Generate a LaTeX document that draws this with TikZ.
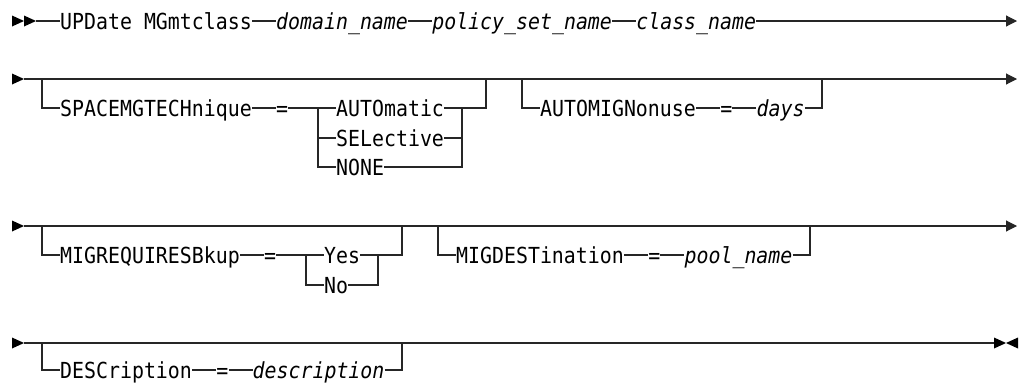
\documentclass[tikz,border=0pt]{standalone}
\usepackage{fontspec}
\setmonofont[FakeStretch=0.9]{DejaVu Sans Mono}
\usetikzlibrary{arrows.meta, positioning}
\newcommand{\synfont}{\ttfamily\fontsize{22.1}{26}\selectfont}
\tikzset{
  kw/.style={inner sep=0pt, anchor=west, font=\synfont, text height=16pt, text depth=0pt},
  var/.style={kw, font=\synfont\itshape},
  rail/.style={line width=1.1pt, draw=black!85},
  endarrow/.style={rail, -{Triangle[length=11pt, width=11pt]}},
  rtri/.pic={\fill[black] (-12,-5.5) -- (0,0) -- (-12,5.5) -- cycle;},
  ltri/.pic={\fill[black] (12,-5.5) -- (0,0) -- (12,5.5) -- cycle;},
}

\begin{document}
\begin{tikzpicture}[x=1pt, y=-1pt]
  \useasboundingbox (0,0) rectangle (1022,383);

  % Row 1: command
  \pic at (24,21) {rtri};
  \pic at (36,21) {rtri};
  \coordinate (s1) at (36,21);
  \coordinate (e1) at (1017,21);
  \node[kw] (upd) at (60,21) {UPDate MGmtclass};
  \node[var, right=24pt of upd] (dom) {domain\_name};
  \node[var, right=24pt of dom] (pol) {policy\_set\_name};
  \node[var, right=24pt of pol] (cls) {class\_name};
  \draw[rail] (s1) -- (upd);
  \draw[rail] (upd) -- (dom);
  \draw[rail] (dom) -- (pol);
  \draw[rail] (pol) -- (cls);
  \draw[endarrow] (cls) -- (e1);

  % Row 2: SPACEMGTECHnique, AUTOMIGNonuse
  \pic at (24,79) {rtri};
  \coordinate (s2) at (24,79);
  \coordinate (e2) at (1017,79);
  \draw[endarrow] (s2) -- (e2);
  \coordinate (o1a) at (42,79);
  \coordinate (o1b) at (486,79);
  \node[kw] (spc) at (60,108) {SPACEMGTECHnique};
  \node[kw, right=24pt of spc] (eq1) {=};
  \node[kw] (auto) at (336,108) {AUTOmatic};
  \node[kw] (sel)  at (336,138) {SELective};
  \node[kw] (none) at (336,167) {NONE};
  \coordinate (st1l) at (318,108);
  \coordinate (st1r) at (462,108);
  \draw[rail] (o1a) |- (spc);
  \draw[rail] (spc) -- (eq1);
  \draw[rail] (eq1) -- (auto);
  \draw[rail] (st1l) |- (none);
  \draw[rail] (st1l |- sel) -- (sel);
  \draw[rail] (sel) -- (st1r |- sel);
  \draw[rail] (none) -| (st1r);
  \draw[rail] (auto) -| (o1b);

  \coordinate (o2a) at (522,79);
  \coordinate (o2b) at (822,79);
  \node[kw] (amn) at (540,108) {AUTOMIGNonuse};
  \node[kw, right=24pt of amn] (eq2) {=};
  \node[var, right=24pt of eq2] (days) {days};
  \draw[rail] (o2a) |- (amn);
  \draw[rail] (amn) -- (eq2);
  \draw[rail] (eq2) -- (days);
  \draw[rail] (days) -| (o2b);

  % Row 3: MIGREQUIRESBkup, MIGDESTination
  \pic at (24,226) {rtri};
  \coordinate (s3) at (24,226);
  \coordinate (e3) at (1017,226);
  \draw[endarrow] (s3) -- (e3);
  \coordinate (o3a) at (42,226);
  \coordinate (o3b) at (402,226);
  \node[kw] (mrb) at (60,255) {MIGREQUIRESBkup};
  \node[kw, right=24pt of mrb] (eq3) {=};
  \node[kw] (yes) at (324,255) {Yes};
  \node[kw] (no)  at (324,285) {No};
  \coordinate (st3l) at (306,255);
  \coordinate (st3r) at (378,255);
  \draw[rail] (o3a) |- (mrb);
  \draw[rail] (mrb) -- (eq3);
  \draw[rail] (eq3) -- (yes);
  \draw[rail] (st3l) |- (no);
  \draw[rail] (no) -| (st3r);
  \draw[rail] (yes) -| (o3b);

  \coordinate (o4a) at (438,226);
  \coordinate (o4b) at (810,226);
  \node[kw] (mdst) at (456,255) {MIGDESTination};
  \node[kw, right=24pt of mdst] (eq4) {=};
  \node[var, right=24pt of eq4] (pool) {pool\_name};
  \draw[rail] (o4a) |- (mdst);
  \draw[rail] (mdst) -- (eq4);
  \draw[rail] (eq4) -- (pool);
  \draw[rail] (pool) -| (o4b);

  % Row 4: DESCription
  \pic at (24,343) {rtri};
  \coordinate (s4) at (24,343);
  \coordinate (e4) at (995,343);
  \draw[rail] (s4) -- (e4);
  \pic at (1006,343) {rtri};
  \pic at (1006,343) {ltri};
  \coordinate (o5a) at (42,343);
  \coordinate (o5b) at (402,343);
  \node[kw] (desc) at (60,370) {DESCription};
  \node[kw, right=24pt of desc] (eq5) {=};
  \node[var, right=24pt of eq5] (dtxt) {description};
  \draw[rail] (o5a) |- (desc);
  \draw[rail] (desc) -- (eq5);
  \draw[rail] (eq5) -- (dtxt);
  \draw[rail] (dtxt) -| (o5b);
  \coordinate (t5a) at (408,343);
  \coordinate (t5b) at (432,343);
  \draw[rail, line width=1.8pt] (t5a) -- (t5b);

\end{tikzpicture}
\end{document}
